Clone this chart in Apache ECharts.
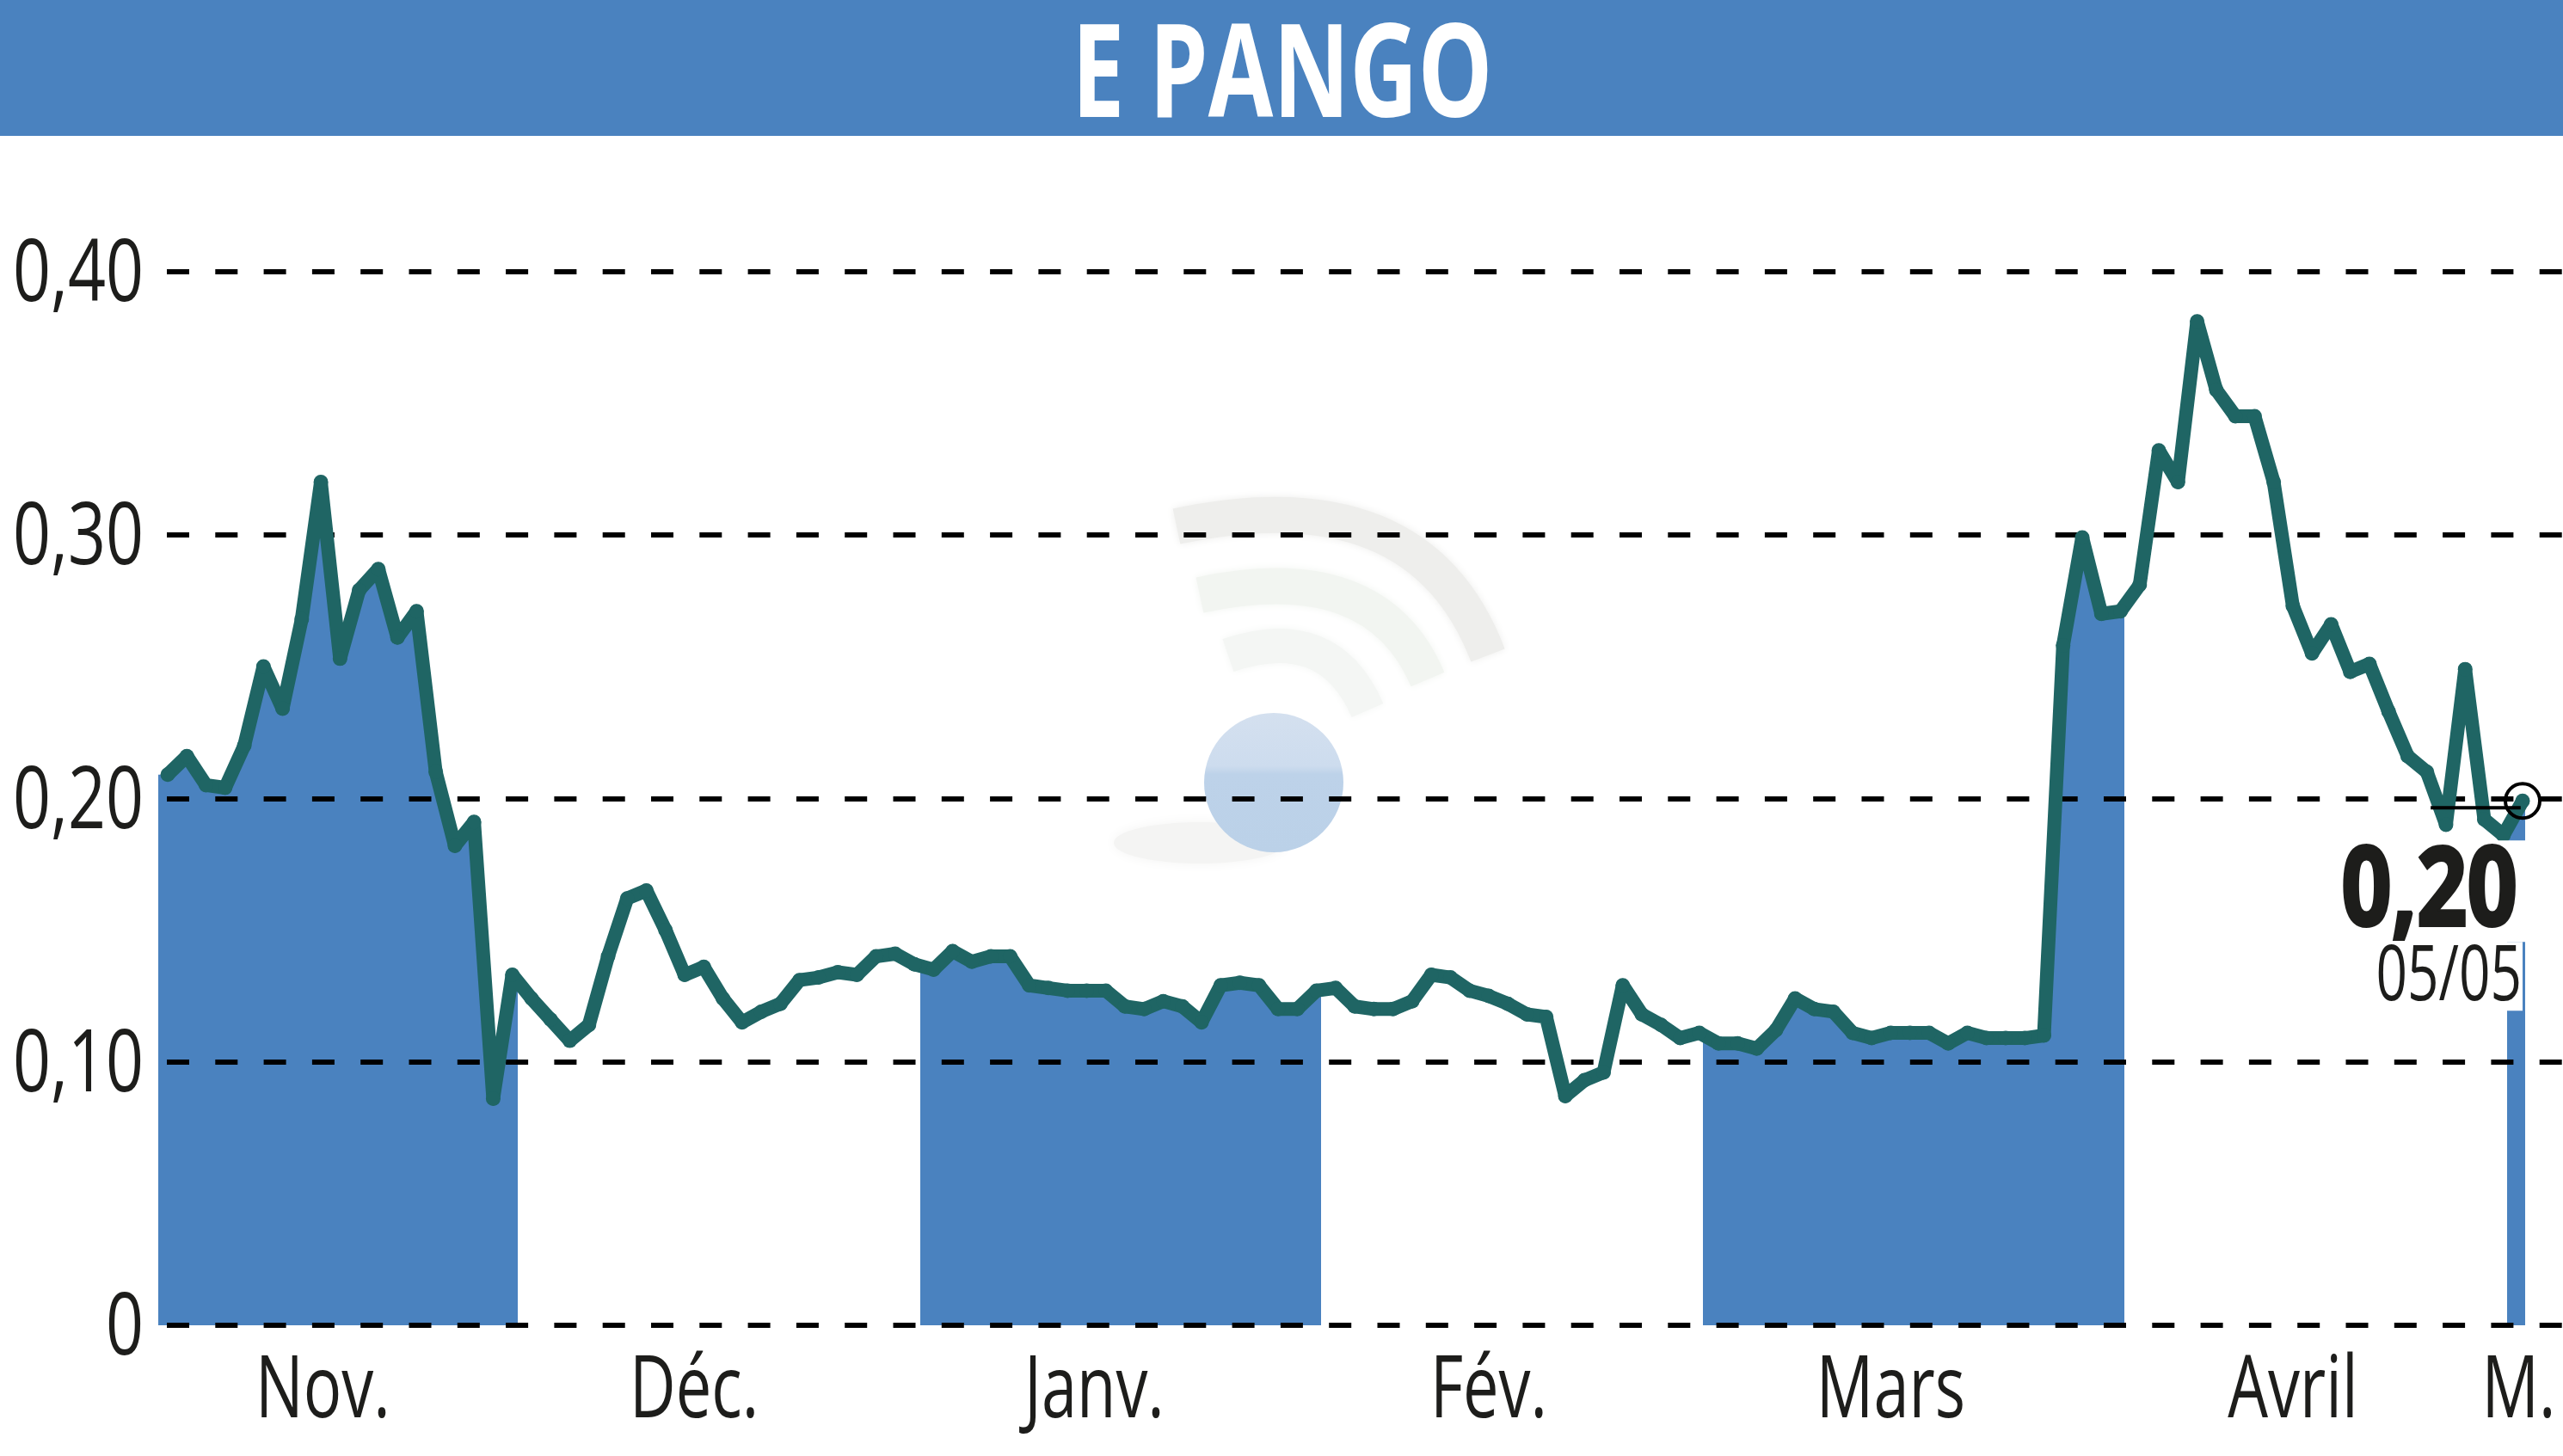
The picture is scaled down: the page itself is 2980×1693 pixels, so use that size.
<!DOCTYPE html>
<html lang="fr">
<head>
<meta charset="UTF-8">
<title>E PANGO</title>
<script src="https://cdn.jsdelivr.net/npm/echarts@6/dist/echarts.min.js"></script>
<style>
    html, body { margin: 0; padding: 0; background: #fff; }
    #main { width: 2980px; height: 1693px; }
</style>
</head>
<body>
<div id="main"></div>
<script>
    // daily closes
    const closes = [
        0.209, 0.216, 0.205, 0.204, 0.220, 0.250, 0.234, 0.268, 0.320, 0.253,
        0.279, 0.287, 0.261, 0.271, 0.210, 0.182, 0.191, 0.086, 0.133, 0.124,
        0.116, 0.108, 0.114, 0.140, 0.162, 0.165, 0.150, 0.133, 0.136, 0.124,
        0.115, 0.119, 0.122, 0.131, 0.132, 0.134, 0.133, 0.140, 0.141, 0.137,
        0.135, 0.142, 0.138, 0.140, 0.140, 0.129, 0.128, 0.127, 0.127, 0.127,
        0.121, 0.120, 0.123, 0.121, 0.115, 0.129, 0.130, 0.129, 0.120, 0.120,
        0.127, 0.128, 0.121, 0.120, 0.120, 0.123, 0.133, 0.132, 0.127, 0.125,
        0.122, 0.118, 0.117, 0.087, 0.093, 0.096, 0.129, 0.118, 0.114, 0.109,
        0.111, 0.107, 0.107, 0.105, 0.112, 0.124, 0.120, 0.119, 0.111, 0.109,
        0.111, 0.111, 0.111, 0.107, 0.111, 0.109, 0.109, 0.109, 0.110, 0.258,
        0.299, 0.270, 0.271, 0.281, 0.332, 0.320, 0.381, 0.355, 0.345, 0.345,
        0.320, 0.273, 0.255, 0.266, 0.248, 0.251, 0.233, 0.216, 0.210, 0.190,
        0.249, 0.192, 0.186, 0.199
    ];
    const yTicks = [0, 0.1, 0.2, 0.3, 0.4];
    const yTickLabels = ['0', '0,10', '0,20', '0,30', '0,40'];
    const monthLabels = ['Nov.', 'Déc.', 'Janv.', 'Fév.', 'Mars', 'Avril', 'M.'];
    const monthLabelDays = [8.1, 27.5, 48.4, 69, 90, 111, 122.8];
    // alternate months are filled, edges given in trading days
    const filledMonths = [[-0.5, 18.3], [39.3, 60.25], [80.2, 102.2], [122.2, 123.15]];
    const lastValue = '0,20';
    const lastDate = '05/05';
    const leaderDays = [118.2, 122.9];
    const leaderValue = 0.1964;

    const BLUE = '#4a82bf';
    const TEAL = '#1f6564';
    const INK = '#1d1d1b';
    const FONT = '"Open Sans", sans-serif';

    // first point sits at 195px, last at 2933px, grid runs 184..2980
    const dayWidth = (2933 - 195) / (closes.length - 1);
    const lastDay = closes.length - 1;

    const linePoints = closes.map((v, i) => [i, v]);
    const areaPoints = [[-0.5, closes[0]]].concat(linePoints, [[123.15, closes[lastDay]]]);

    const chart = echarts.init(document.getElementById('main'));
    chart.setOption({
        animation: false,
        backgroundColor: '#fff',
        grid: { left: 184, right: 0, top: 315.5, bottom: 152, outerBoundsMode: 'none' },
        xAxis: {
            type: 'value',
            min: (184 - 195) / dayWidth,
            max: (2980 - 195) / dayWidth,
            axisLine: { show: false },
            axisTick: { show: false },
            splitLine: { show: false },
            axisLabel: { show: false }
        },
        yAxis: {
            type: 'value',
            min: 0,
            max: 0.4,
            interval: 0.1,
            z: 3,
            axisLine: { show: false },
            axisTick: { show: false },
            axisLabel: { show: false },
            splitLine: {
                lineStyle: { color: '#000', width: 6, type: [26, 30.3], dashOffset: 46.3 }
            }
        },
        visualMap: {
            show: false,
            type: 'piecewise',
            seriesIndex: 0,
            dimension: 0,
            pieces: filledMonths.map(m => ({ gte: m[0], lt: m[1], color: BLUE })),
            outOfRange: { color: 'rgba(255,255,255,0)' }
        },
        series: [
            {
                name: 'zones',
                type: 'line',
                z: 2,
                data: areaPoints,
                showSymbol: false,
                silent: true,
                lineStyle: { width: 0 },
                areaStyle: { opacity: 1 }
            },
            {
                name: 'cours',
                type: 'line',
                z: 4,
                data: linePoints,
                symbol: 'circle',
                symbolSize: 17,
                itemStyle: { color: TEAL },
                lineStyle: { color: TEAL, width: 16, join: 'round' }
            },
            {
                name: 'repere',
                type: 'line',
                z: 5,
                data: leaderDays.map(d => [d, leaderValue]),
                showSymbol: false,
                lineStyle: { color: '#000', width: 4 }
            },
            {
                name: 'dernier',
                type: 'scatter',
                z: 5,
                data: [[lastDay, closes[lastDay]]],
                symbolSize: 40,
                itemStyle: { color: 'rgba(255,255,255,0)', borderColor: '#000', borderWidth: 4, opacity: 1 }
            }
        ]
    });

    // No condensed face is installed, so the labels are squeezed with scaleX
    function narrowText(text, x, y, size, scaleX, align, extra) {
        return {
            type: 'text',
            z: 10,
            x: x,
            y: y,
            scaleX: scaleX,
            style: Object.assign({
                text: text,
                fill: INK,
                fontFamily: FONT,
                fontSize: size,
                align: align,
                verticalAlign: 'middle'
            }, extra || {})
        };
    }

    const xPx = d => chart.convertToPixel({ xAxisIndex: 0 }, d);
    const yPx = v => chart.convertToPixel({ yAxisIndex: 0 }, v);
    const endX = xPx(lastDay);
    const endY = yPx(closes[lastDay]);

    chart.setOption({
        graphic: [
            { type: 'rect', z: 9, shape: { x: 0, y: 0, width: 2980, height: 158 }, style: { fill: BLUE } },
            narrowText('E PANGO', 1491, 93, 151, 0.725, 'center', { fill: '#fff', fontWeight: 'bold' }),

            // faded logo behind the plot
            { type: 'ellipse', shape: { cx: 1395, cy: 980, rx: 100, ry: 24 }, style: { fill: '#f4f4f3', shadowBlur: 14, shadowColor: '#f4f4f3' } },
            { type: 'bezierCurve', shape: { x1: 1368, y1: 612, cpx1: 1650, cpy1: 552, x2: 1730, y2: 762 }, style: { stroke: '#eeeeec', lineWidth: 42, fill: 'none', shadowBlur: 10, shadowColor: '#eeeeec' } },
            { type: 'bezierCurve', shape: { x1: 1395, y1: 692, cpx1: 1600, cpy1: 648, x2: 1660, y2: 790 }, style: { stroke: '#f2f5f1', lineWidth: 42, fill: 'none', shadowBlur: 10, shadowColor: '#f2f5f1' } },
            { type: 'bezierCurve', shape: { x1: 1428, y1: 762, cpx1: 1545, cpy1: 722, x2: 1590, y2: 826 }, style: { stroke: '#f4f6f4', lineWidth: 40, fill: 'none', shadowBlur: 10, shadowColor: '#f4f6f4' } },
            {
                type: 'circle',
                shape: { cx: 1481, cy: 910, r: 81 },
                style: {
                    fill: new echarts.graphic.LinearGradient(0, 0, 0, 1, [
                        { offset: 0, color: '#d4e0ef' },
                        { offset: 0.38, color: '#cddcee' },
                        { offset: 0.44, color: '#bdd2e9' },
                        { offset: 1, color: '#bbd1e8' }
                    ])
                }
            },

            // white boxes of the last quote cut through the last month's fill
            { type: 'rect', z: 9, shape: { x: endX - 218, y: endY + 46, width: 227, height: 118 }, style: { fill: '#fff' } },
            { type: 'rect', z: 9, shape: { x: endX - 178, y: endY + 164, width: 178, height: 80 }, style: { fill: '#fff' } },
            narrowText(lastValue, endX - 6, endY + 108, 128, 0.8, 'right', {
                fontWeight: 'bold', stroke: INK, lineWidth: 4
            }),
            narrowText(lastDate, endX - 1, endY + 206, 90, 0.71, 'right')
        ].concat(
            yTicks.map((v, i) => narrowText(yTickLabels[i], 167, yPx(v) + 6, 100, 0.77, 'right')),
            monthLabels.map((m, i) => narrowText(m, xPx(monthLabelDays[i]), 1620, 100, 0.74, 'center'))
        )
    });
</script>
</body>
</html>
